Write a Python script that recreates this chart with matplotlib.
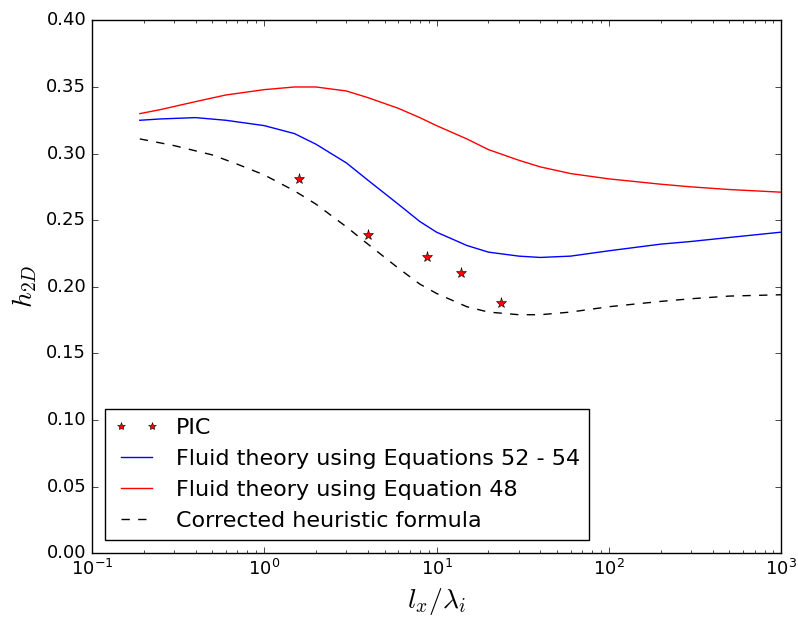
import matplotlib
matplotlib.use("Agg")
import matplotlib.pyplot as plt

plt.style.use("classic")
plt.rcParams["mathtext.fontset"] = "cm"
plt.rcParams["figure.facecolor"] = "white"

# PIC points
pic_x = [1.6, 4.0, 8.8, 13.9, 23.6]
pic_y = [0.281, 0.239, 0.222, 0.210, 0.188]

# Fluid theory, Equations 52 - 54
blue_x = [0.19, 0.25, 0.4, 0.6, 1.0, 1.5, 2.0, 3.0, 4.0, 6.0, 8.0, 10, 15, 20, 30, 40, 60, 100, 200, 300, 500, 1000]
blue_y = [0.325, 0.326, 0.327, 0.325, 0.321, 0.315, 0.307, 0.293, 0.280, 0.262, 0.249, 0.241, 0.231, 0.226, 0.223, 0.222, 0.223, 0.227, 0.232, 0.234, 0.237, 0.241]

# Fluid theory, Equation 48
red_x = [0.19, 0.25, 0.4, 0.6, 1.0, 1.5, 2.0, 3.0, 4.0, 6.0, 8.0, 10, 15, 20, 30, 40, 60, 100, 200, 300, 500, 1000]
red_y = [0.330, 0.333, 0.339, 0.344, 0.348, 0.350, 0.350, 0.347, 0.342, 0.334, 0.327, 0.321, 0.311, 0.303, 0.295, 0.290, 0.285, 0.281, 0.277, 0.275, 0.273, 0.271]

# Corrected heuristic formula
dash_x = [0.19, 0.3, 0.5, 0.7, 1.0, 1.5, 2.0, 3.0, 4.0, 6.0, 8.0, 10, 15, 20, 30, 40, 60, 100, 200, 300, 500, 1000]
dash_y = [0.311, 0.306, 0.299, 0.292, 0.284, 0.272, 0.262, 0.245, 0.232, 0.214, 0.202, 0.195, 0.185, 0.181, 0.179, 0.179, 0.181, 0.185, 0.189, 0.191, 0.193, 0.194]

fig = plt.figure(figsize=(7.98, 6.18), dpi=100)
ax = fig.add_axes([0.115, 0.105, 0.864, 0.862])

ax.plot(pic_x, pic_y, "*", color="red", markeredgecolor="black", markersize=8,
        markeredgewidth=0.4, label="PIC")
ax.plot(blue_x, blue_y, "-", color="blue", lw=1.0, label="Fluid theory using Equations 52 - 54")
ax.plot(red_x, red_y, "-", color="red", lw=1.0, label="Fluid theory using Equation 48")
ax.plot(dash_x, dash_y, "--", color="black", lw=1.0, label="Corrected heuristic formula")

ax.set_xscale("log")
ax.set_xlim(0.1, 1000)
ax.set_ylim(0, 0.40)
ax.set_yticks([0.0, 0.05, 0.10, 0.15, 0.20, 0.25, 0.30, 0.35, 0.40])
ax.set_yticklabels(["%.2f" % v for v in ax.get_yticks()])
ax.tick_params(labelsize=13)

ax.set_xlabel(r"$l_x/\lambda_i$", fontsize=20)
ax.set_ylabel(r"$h_{2D}$", fontsize=20)

ax.legend(loc="lower left", numpoints=2, fontsize=16, markerscale=0.75,
          fancybox=False, borderaxespad=0.6)

fig.savefig("out.png", dpi=100, facecolor="white")
